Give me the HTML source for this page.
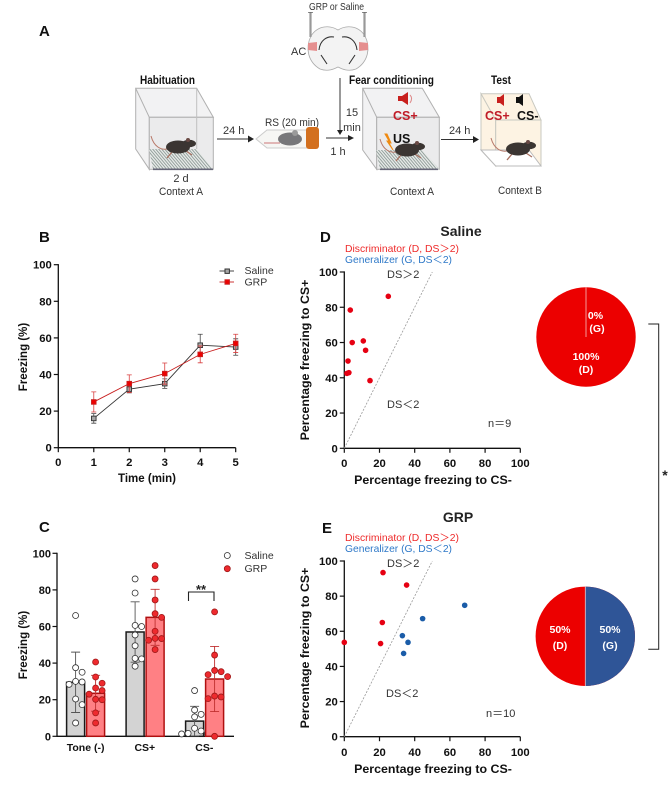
<!DOCTYPE html>
<html lang="en"><head><meta charset="utf-8"><title>Fear discrimination figure</title>
<style>
html,body{margin:0;padding:0;background:#fff}
svg{display:block;font-family:"Liberation Sans","Noto Sans CJK SC",sans-serif}
.sm{font-size:11px;fill:#333}
.b{font-weight:bold;fill:#111}
</style></head>
<body>
<svg id="fig" xmlns="http://www.w3.org/2000/svg" width="669" height="787" viewBox="0 0 669 787">
<defs>
<pattern id="grid" width="3" height="3" patternUnits="userSpaceOnUse" patternTransform="skewX(40)"><rect width="3" height="3" fill="#e8ebe9"/><rect width="1.2" height="3" fill="#8f9c98"/></pattern>
<symbol id="mouse" viewBox="-30 -15 60 30" width="60" height="30" overflow="visible">
<path d="M-11,2C-17,3-24,0-27,-11" fill="none" stroke="#b87868" stroke-width="1"/>
<path d="M-6,5L-11,11M8,4L14,8" stroke="#a87060" stroke-width="1.3"/>
<ellipse cx="0" cy="0" rx="12" ry="6.5" fill="#3b3532"/>
<ellipse cx="11" cy="-3.5" rx="7" ry="3.8" fill="#3b3532"/>
<circle cx="10" cy="-7" r="2" fill="#6a4a45"/>
</symbol>
</defs>

<g>
<text x="39" y="36" font-size="15" font-weight="bold" fill="#111">A</text>
<text x="309" y="10" font-size="10" fill="#333" textLength="55" lengthAdjust="spacingAndGlyphs">GRP or Saline</text>
<text x="291" y="55" class="sm">AC</text>

<g>
<path d="M338,30C330,25 318,25 311,36C305,48 308,62 320,69C328,72 334,69 338,67C342,69 348,72 356,69C368,62 371,48 365,36C358,25 346,25 338,30Z" fill="#f3f3f3" stroke="#aaa" stroke-width="0.8"/>
<path d="M308,43L317,42L317,51L308,50ZM368,43L359,42L359,51L368,50Z" fill="#e58f8f"/>
<path d="M319,50C320,40 327,36 334,37M357,50C356,40 349,36 342,37M321,55L327,64M355,55L349,64" fill="none" stroke="#333" stroke-width="1.1"/>
<path d="M310.5,12V37M364.5,12V37" stroke="#999" stroke-width="2.2"/>
<path d="M308,12.5H313M362,12.5H367" stroke="#666" stroke-width="0.8"/>
</g>

<g>
<text x="140" y="84" class="b" font-size="11.5" textLength="55" lengthAdjust="spacingAndGlyphs">Habituation</text>
<path d="M135.7,88.3H196.7L213.3,117.3H149.3ZM135.7,88.3V149L149.3,169.3V117.3Z" fill="#f2f2f3" stroke="#b0b0b0"/>
<rect x="149.3" y="117.3" width="64" height="52" fill="#ebebec" stroke="#b0b0b0"/>
<path d="M149,149H196.7L213.3,169.3H153Z" fill="url(#grid)"/>
<path d="M196.7,88.3V149" stroke="#c0c0c0"/>
<path d="M153,169.3H213" stroke="#667" stroke-width="1.6"/>
<use href="#mouse" x="148" y="132"/>
<text x="181" y="182" class="sm" text-anchor="middle">2 d</text>
<text x="159" y="195" class="sm" textLength="44" lengthAdjust="spacingAndGlyphs">Context A</text>
</g>

<g><path d="M217,139H250" stroke="#333"/><path d="M248,135.5L254,139L248,142.5Z" fill="#222"/><text x="223" y="134" class="sm">24 h</text></g>

<g>
<text x="265" y="126" class="sm" textLength="54" lengthAdjust="spacingAndGlyphs">RS (20 min)</text>
<path d="M256,139L267,130H307V148H267Z" fill="#f6f6f4" stroke="#ccc"/>
<ellipse cx="290" cy="139" rx="12" ry="6.5" fill="#77777a"/><circle cx="295" cy="133" r="3" fill="#9a9a9a"/>
<path d="M264,143H280" stroke="#c77" stroke-width="1"/>
<rect x="306" y="127" width="13" height="22" rx="3" fill="#d3701f"/>
</g>

<g>
<path d="M340,78V131" stroke="#333"/><path d="M337,130L340,135L343,130Z" fill="#222"/>
<path d="M326,138H350" stroke="#333"/><path d="M348,135L354,138L348,141Z" fill="#222"/>
<text x="352" y="116" class="sm" text-anchor="middle">15</text><text x="352" y="131" class="sm" text-anchor="middle">min</text><text x="338" y="155" class="sm" text-anchor="middle">1 h</text>
</g>

<g>
<text x="349" y="84" class="b" font-size="11.5" textLength="85" lengthAdjust="spacingAndGlyphs">Fear conditioning</text>
<path d="M362.7,88.3H422.3L439.3,117.3H376.7ZM362.7,88.3V150L376.7,169.3V117.3Z" fill="#f2f2f3" stroke="#b0b0b0"/>
<rect x="376.7" y="117.3" width="62.6" height="52" fill="#ebebec" stroke="#b0b0b0"/>
<path d="M376,150H422.3L439.3,169.3H380Z" fill="url(#grid)"/>
<path d="M380,169.3H438" stroke="#667" stroke-width="1.6"/>
<path d="M398,96H402L408,92V105L402,101H398Z" fill="#c8201e"/>
<path d="M410,95C412,97 412,100 410,103" stroke="#d88" fill="none"/>
<text x="393" y="120" font-size="12.5" font-weight="bold" fill="#c01c28">CS+</text>
<text x="393" y="143" font-size="12.5" font-weight="bold" fill="#111">US</text>
<path d="M385,134L389,141L387,141L393,150L389,143L391,143L387,134Z" fill="#f08a10" stroke="#f08a10"/>
<use href="#mouse" x="377" y="135"/>
<text x="390" y="195" class="sm" textLength="44" lengthAdjust="spacingAndGlyphs">Context A</text>
</g>

<g><path d="M441,139.5H475" stroke="#333"/><path d="M473,136L479,139.5L473,143Z" fill="#222"/><text x="449" y="134" class="sm">24 h</text></g>

<g>
<text x="491" y="84" class="b" font-size="11.5" textLength="20" lengthAdjust="spacingAndGlyphs">Test</text>
<path d="M481,93.7H529L541,120H495.7ZM481,93.7V150L495.7,166V120Z" fill="#fdf3e3" stroke="#c8c8c0"/>
<rect x="495.7" y="120" width="45.3" height="46" fill="#fdf3e3" stroke="#c8c8c0"/>
<path d="M481,150H529L541,166H495.7Z" fill="#fff" stroke="#bbb"/>
<path d="M497,97H500L504,94V106L500,103H497Z" fill="#c8201e"/>
<path d="M516,97H519L523,94V106L519,103H516Z" fill="#111"/>
<text x="485" y="120" font-size="12.5" font-weight="bold" fill="#c01c28">CS+</text>
<text x="517" y="120" font-size="12.5" font-weight="bold" fill="#111">CS-</text>
<use href="#mouse" x="488" y="134"/>
<text x="498" y="194" class="sm" textLength="44" lengthAdjust="spacingAndGlyphs">Context B</text>
</g>
</g>

<g id="panelB">
<text x="39" y="242" font-size="15" font-weight="bold" fill="#111">B</text>
<text transform="translate(27,357) rotate(-90)" text-anchor="middle" class="b" font-size="11.5">Freezing (%)</text>
<text x="147" y="482" text-anchor="middle" class="b" font-size="11.5">Time (min)</text>
</g>
<g id="panelC">
<text x="39" y="532" font-size="15" font-weight="bold" fill="#111">C</text>
<text transform="translate(27,645) rotate(-90)" text-anchor="middle" class="b" font-size="11.5">Freezing (%)</text>
<path d="M188.5,601V592H214V601" fill="none" stroke="#222" stroke-width="1.1"/>
<text x="201" y="594" text-anchor="middle" font-size="13" font-weight="bold" fill="#222">**</text>
</g>
<g id="panelD">
<text x="320" y="242" font-size="15" font-weight="bold" fill="#111">D</text>
<text x="461" y="236" text-anchor="middle" font-size="14" font-weight="bold" fill="#222">Saline</text>
<text x="345" y="252" font-size="10.5" fill="#ee2a2a" textLength="114" lengthAdjust="spacingAndGlyphs">Discriminator (D, DS＞2)</text>
<text x="345" y="263" font-size="10.5" fill="#2f79c8" textLength="107" lengthAdjust="spacingAndGlyphs">Generalizer (G, DS＜2)</text>
<text x="387" y="278" class="sm">DS＞2</text>
<text x="387" y="408" class="sm">DS＜2</text>
<text x="488" y="427" class="sm">n＝9</text>
<text transform="translate(309,360) rotate(-90)" text-anchor="middle" class="b" font-size="12.4">Percentage freezing to CS+</text>
<text x="433" y="484" text-anchor="middle" class="b" font-size="12.4">Percentage freezing to CS-</text>
</g>
<g id="panelE">
<text x="322" y="533" font-size="15" font-weight="bold" fill="#111">E</text>
<text x="458" y="522" text-anchor="middle" font-size="14" font-weight="bold" fill="#222">GRP</text>
<text x="345" y="541" font-size="10.5" fill="#ee2a2a" textLength="114" lengthAdjust="spacingAndGlyphs">Discriminator (D, DS＞2)</text>
<text x="345" y="552" font-size="10.5" fill="#2f79c8" textLength="107" lengthAdjust="spacingAndGlyphs">Generalizer (G, DS＜2)</text>
<text x="387" y="567" class="sm">DS＞2</text>
<text x="386" y="697" class="sm">DS＜2</text>
<text x="486" y="717" class="sm">n＝10</text>
<text transform="translate(309,648) rotate(-90)" text-anchor="middle" class="b" font-size="12.4">Percentage freezing to CS+</text>
<text x="433" y="773" text-anchor="middle" class="b" font-size="12.4">Percentage freezing to CS-</text>
</g>
<g id="pies">
<path d="M648.3,324H658.7V649.3H648.3" fill="none" stroke="#222" stroke-width="1"/>
<text x="665" y="480" text-anchor="middle" font-size="14" font-weight="bold" fill="#222">*</text>
</g>
</svg>

<script>
var timePoints = [1, 2, 3, 4, 5];
var salineTime = [16, 32, 35, 56, 55];
var salineTimeErr = [2.6, 2, 2.6, 6, 4.5];
var grpTime = [25, 35, 40.5, 51, 57];
var grpTimeErr = [5.5, 4.8, 5.8, 4.6, 5];
var xTicksB = [0, 1, 2, 3, 4, 5];
var yTicks = [0, 20, 40, 60, 80, 100];

var categoriesC = ['Tone (-)', 'CS+', 'CS-'];
var salineMeans = [29.5, 57, 8.3];
var salineSD = [16.5, 16.5, 8.1];
var grpMeans = [23.5, 65, 31.3];
var grpSD = [9.8, 15.3, 17.8];
var salinePoints = [
  [66, 37.5, 35, 30, 29.7, 28.4, 20.4, 17.3, 7.3],
  [86, 78.3, 60.6, 60, 55.4, 49.5, 42.6, 42.3, 38.3],
  [25, 14.4, 12, 10.6, 4.4, 2.9, 1.6, 1.5, 1.3]
];
var grpPoints = [
  [40.6, 32.4, 29, 26.4, 25, 23, 20.2, 20, 12.8, 7.3],
  [93.3, 86, 74.5, 67, 65, 57.4, 53.5, 53.4, 52.5, 47.4],
  [68, 44.4, 36, 35.3, 33.7, 32.6, 22, 21.5, 20.6, 0]
];

var scatterTicks = [0, 20, 40, 60, 80, 100];
var salineCSminus = [25, 3.4, 4.5, 10.8, 12.1, 2.1, 2.6, 1.5, 14.6];
var salineCSplus = [86.2, 78.4, 60, 60.9, 55.6, 49.5, 42.9, 42.5, 38.4];
var grpDiscCSminus = [22, 35.4, 21.6, 0, 20.6];
var grpDiscCSplus = [93.4, 86.3, 65, 53.7, 53];
var grpGenCSminus = [68.4, 44.5, 33, 36.2, 33.7];
var grpGenCSplus = [74.8, 67.2, 57.5, 53.7, 47.4];
var salinePie = [100, 0];
var grpPie = [50, 50];

var NS = 'http://www.w3.org/2000/svg';
function mk(parent, tag, attrs, txt) {
  var e = document.createElementNS(NS, tag);
  for (var k in attrs) e.setAttribute(k, attrs[k]);
  if (txt !== undefined) e.textContent = txt;
  parent.appendChild(e);
  return e;
}
function linear(d0, d1, r0, r1) { return function (v) { return r0 + (v - d0) * (r1 - r0) / (d1 - d0); }; }
var FF = '#111';

function axes(g, xs, ys, xTicks, yTicksArr, xEnd, fs, xLabY) {
  var y0 = ys(0), x0 = xs(0);
  var ax = mk(g, 'line', {x1: x0, y1: y0, x2: xEnd, y2: y0, stroke: '#111', 'stroke-width': 1.3});
  
  
  var ay = mk(g, 'line', {x1: x0, y1: ys(100) - 0.6, x2: x0, y2: y0 + 0.6, stroke: '#111', 'stroke-width': 1.3});
  
  
  yTicksArr.forEach(function (t) {
    var tk = mk(g, 'line', {x1: x0 - 4.5, y1: ys(t), x2: x0, y2: ys(t), stroke: '#111', 'stroke-width': 1.2});
    
    
    var lb = mk(g, 'text', {x: x0 - 6.5, y: ys(t) + 4, 'text-anchor': 'end', 'font-size': fs, 'font-weight': 'bold', fill: FF}, t);
    
    
  });
  xTicks.forEach(function (t) {
    var tk = mk(g, 'line', {x1: xs(t), y1: y0, x2: xs(t), y2: y0 + 4.5, stroke: '#111', 'stroke-width': 1.2});
    
    
    var lb = mk(g, 'text', {x: xs(t), y: xLabY, 'text-anchor': 'middle', 'font-size': fs, 'font-weight': 'bold', fill: FF}, t);
    
    
  });
}

/* Panel B */
(function () {
  var g = document.getElementById('panelB');
  var xs = linear(0, 5, 58.3, 235.7), ys = linear(0, 100, 447.7, 264.7);
  axes(g, xs, ys, xTicksB, yTicks, 235.7, 11.3, 466);
  function series(vals, errs, stroke, fill, errCol, sz) {
    var pts = vals.map(function (v, i) { return xs(timePoints[i]) + ',' + ys(v); }).join(' ');
    var pl = mk(g, 'polyline', {points: pts, fill: 'none', stroke: stroke, 'stroke-width': 0.9});
    
    
    vals.forEach(function (v, i) {
      var x = xs(timePoints[i]);
      var d = 'M' + x + ',' + ys(v - errs[i]) + 'V' + ys(v + errs[i]) +
        'M' + (x - 2.5) + ',' + ys(v + errs[i]) + 'h5M' + (x - 2.5) + ',' + ys(v - errs[i]) + 'h5';
      var eb = mk(g, 'path', {d: d, fill: 'none', stroke: errCol, 'stroke-width': 0.8});
      
      
    });
    vals.forEach(function (v, i) {
      var m = mk(g, 'rect', {x: xs(timePoints[i]) - sz / 2, y: ys(v) - sz / 2, width: sz, height: sz, fill: fill, stroke: stroke, 'stroke-width': 0.9});
      
      
    });
  }
  series(salineTime, salineTimeErr, '#333', '#a6a6a6', '#444', 4.6);
  series(grpTime, grpTimeErr, '#c81e1e', '#ee0000', '#d84040', 4.6);
  var l1 = mk(g, 'path', {d: 'M219.5,271H234', stroke: '#333', 'stroke-width': 0.9});
  
  
  var r1 = mk(g, 'rect', {x: 225, y: 269, width: 4.4, height: 4.4, fill: '#a6a6a6', stroke: '#333'});
  
  
  var t1 = mk(g, 'text', {x: 244.5, y: 274, 'font-size': 10.5, fill: '#333'}, 'Saline');
  
  
  var l2 = mk(g, 'path', {d: 'M219.5,282H234', stroke: '#c81e1e', 'stroke-width': 0.9});
  
  
  var r2 = mk(g, 'rect', {x: 225, y: 279.8, width: 4.4, height: 4.4, fill: '#ee0000', stroke: '#c81e1e'});
  
  
  var t2 = mk(g, 'text', {x: 244.5, y: 285.5, 'font-size': 10.5, fill: '#333'}, 'GRP');
  
  
})();

/* Panel C */
(function () {
  var g = document.getElementById('panelC');
  var ys = linear(0, 100, 736.3, 553.3);
  var x0 = 57;
  var xAxis = mk(g, 'line', {x1: x0, y1: ys(0), x2: 234, y2: ys(0), stroke: '#111', 'stroke-width': 1.3});
  
  
  var yAxis = mk(g, 'line', {x1: x0, y1: ys(100) - 0.6, x2: x0, y2: ys(0) + 0.6, stroke: '#111', 'stroke-width': 1.3});
  
  
  yTicks.forEach(function (t) {
    var tk = mk(g, 'line', {x1: x0 - 4.5, y1: ys(t), x2: x0, y2: ys(t), stroke: '#111', 'stroke-width': 1.2});
    
    
    var lb = mk(g, 'text', {x: x0 - 6, y: ys(t) + 4, 'text-anchor': 'end', 'font-size': 11, 'font-weight': 'bold', fill: FF}, t);
    
    
  });
  var catX = linear(0, 1, 85.6, 145.1);
  var barW = 18;
  function swarm(vals, cx) {
    var placed = [];
    vals.forEach(function (v) {
      var y = ys(v), offs = [0, 6.5, -6.5, 3.5, -3.5, 10, -10, 13, -13], chosen = offs[offs.length - 1];
      for (var j = 0; j < offs.length; j++) {
        var ok = placed.every(function (p) { return Math.hypot(p.x - (cx + offs[j]), p.y - y) >= 6.3; });
        if (ok) { chosen = offs[j]; break; }
      }
      placed.push({x: cx + chosen, y: y});
    });
    return placed;
  }
  function group(means, sds, pts, side, fill, stroke, dotFill, dotStroke) {
    means.forEach(function (m, i) {
      var cx = catX(i) + side * 10;
      var bar = mk(g, 'rect', {x: cx - barW / 2, y: ys(m), width: barW, height: ys(0) - ys(m), fill: fill, stroke: stroke, 'stroke-width': 1.5});
      
      
      var lo = Math.max(0, m - sds[i]), hi = m + sds[i];
      var d = 'M' + cx + ',' + ys(lo) + 'V' + ys(hi) + 'M' + (cx - 4.5) + ',' + ys(hi) + 'h9M' + (cx - 4.5) + ',' + ys(lo) + 'h9';
      var eb = mk(g, 'path', {d: d, fill: 'none', stroke: dotStroke === '#333' ? '#555' : '#c03030', 'stroke-width': 0.9});
      
      
      swarm(pts[i], cx).forEach(function (p) {
        var c = mk(g, 'circle', {cx: p.x, cy: p.y, r: 3, fill: dotFill, stroke: dotStroke, 'stroke-width': 0.8});
        
        
      });
    });
  }
  group(salineMeans, salineSD, salinePoints, -1, '#d3d3d3', '#1a1a1a', '#fff', '#333');
  group(grpMeans, grpSD, grpPoints, 1, '#ff8084', '#b01010', '#ee2a2e', '#a01818');
  categoriesC.forEach(function (c, i) {
    var t = mk(g, 'text', {x: catX(i) + (i === 0 ? 0 : -0.3), y: 751, 'text-anchor': 'middle', 'font-size': 10.5, 'font-weight': 'bold', fill: FF}, c);
    
    
  });
  var a = mk(g, 'circle', {cx: 227.3, cy: 555.5, r: 3, fill: '#fff', stroke: '#333', 'stroke-width': 0.8});
  
  
  var b = mk(g, 'text', {x: 244.5, y: 559, 'font-size': 10.5, fill: '#333'}, 'Saline');
  
  
  var c2 = mk(g, 'circle', {cx: 227.3, cy: 568.7, r: 3, fill: '#ee2a2e', stroke: '#a01818', 'stroke-width': 0.8});
  
  
  var d2 = mk(g, 'text', {x: 244.5, y: 572, 'font-size': 10.5, fill: '#333'}, 'GRP');
  
  
})();

/* Panels D and E */
function scatterFrame(g, ys, labY) {
  var xs = linear(0, 100, 344.3, 520.3);
  axes(g, xs, ys, scatterTicks, scatterTicks, 520.3, 11.3, labY);
  var diag = mk(g, 'line', {x1: xs(0), y1: ys(0), x2: xs(50), y2: ys(100), stroke: '#999', 'stroke-width': 0.8, 'stroke-dasharray': '2 1.5'});
  
  
  return xs;
}
function scatterPoints(g, xs, ys, xv, yv, col) {
  xv.forEach(function (v, i) {
    var c = mk(g, 'circle', {cx: xs(v), cy: ys(yv[i]), r: 2.8, fill: col});
    
    
  });
}
(function () {
  var g = document.getElementById('panelD');
  var ys = linear(0, 100, 448.3, 272);
  var xs = scatterFrame(g, ys, 467);
  scatterPoints(g, xs, ys, salineCSminus, salineCSplus, '#e60012');
})();
(function () {
  var g = document.getElementById('panelE');
  var ys = linear(0, 100, 736.7, 561);
  var xs = scatterFrame(g, ys, 756);
  scatterPoints(g, xs, ys, grpDiscCSminus, grpDiscCSplus, '#e60012');
  scatterPoints(g, xs, ys, grpGenCSminus, grpGenCSplus, '#1a5ca8');
})();

/* Pies */
(function () {
  var g = document.getElementById('pies');
  function pie(vals, cx, cy, r, cols) {
    var total = vals[0] + vals[1];
    var frac = vals[1] / total;
    var base = mk(g, 'circle', {cx: cx, cy: cy, r: r, fill: cols[0]});
    
    
    if (frac > 0) {
      var a = frac * 2 * Math.PI;
      var ex = cx + r * Math.sin(a), ey = cy - r * Math.cos(a);
      var s = mk(g, 'path', {d: 'M' + cx + ',' + cy + 'L' + cx + ',' + (cy - r) + 'A' + r + ',' + r + ' 0 ' + (frac > 0.5 ? 1 : 0) + ' 1 ' + ex + ',' + ey + 'Z', fill: cols[1]});
      
      
    }
    var ln = mk(g, 'line', {x1: cx, y1: frac > 0 ? cy + r : cy, x2: cx, y2: cy - r, stroke: '#f6c0c0', 'stroke-width': 0.8});
    
    
  }
  function lab(x, y, s) {
    var t = mk(g, 'text', {x: x, y: y, 'text-anchor': 'middle', 'font-size': 10.5, 'font-weight': 'bold', fill: '#fff'}, s);
    
    
  }
  pie(salinePie, 586, 337, 49.7, ['#ec0000', '#2f5597']);
  pie(grpPie, 585.3, 636.3, 49.7, ['#ec0000', '#2f5597']);
  lab(595.5, 319, salinePie[1] + '%');
  lab(597, 332, '(G)');
  lab(586, 360, salinePie[0] + '%');
  lab(586, 373, '(D)');
  lab(560, 633, grpPie[0] + '%');
  lab(560, 649, '(D)');
  lab(610, 633, grpPie[1] + '%');
  lab(610, 649, '(G)');
})();
</script>
</body></html>
